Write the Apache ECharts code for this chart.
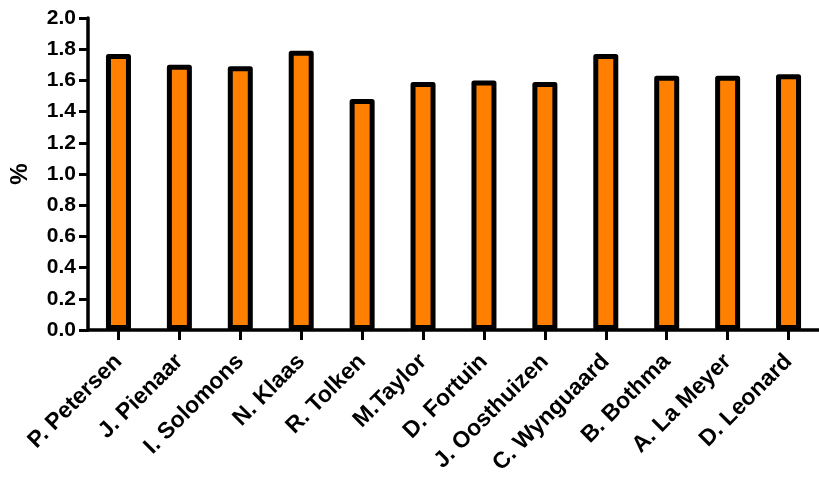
<!DOCTYPE html>
<html>
<head>
<meta charset="utf-8">
<script src="https://cdn.jsdelivr.net/npm/echarts@6/dist/echarts.min.js"></script>
<style>html,body{margin:0;padding:0;background:#fff;}#c{width:819px;height:480px;}</style>
</head>
<body>
<div id="c"></div>
<script>
const categories = ["P. Petersen","J. Pienaar","I. Solomons","N. Klaas","R. Tolken","M.Taylor","D. Fortuin","J. Oosthuizen","C. Wynguaard","B. Bothma","A. La Meyer","D. Leonard"];
const values = [1.77, 1.70, 1.69, 1.79, 1.48, 1.59, 1.60, 1.59, 1.77, 1.63, 1.63, 1.64];
const yTicks = [0, 2, 0.2];
const font = "'Liberation Sans', Arial, sans-serif";
const chart = echarts.init(document.getElementById('c'));
chart.setOption({
  animation: false,
  backgroundColor: '#fff',
  grid: {left: 88, top: 18, bottom: 150, right: -11, containLabel: false},
  xAxis: {
    type: 'category',
    data: categories,
    axisLine: {show: true, lineStyle: {color: '#000', width: 3.5}},
    axisTick: {show: true, alignWithLabel: true, length: 10, lineStyle: {color: '#000', width: 3}},
    axisLabel: {rotate: 45, interval: 0, margin: 28, color: '#000', fontSize: 23, fontWeight: 'bold', fontFamily: font}
  },
  yAxis: {
    type: 'value',
    min: yTicks[0], max: yTicks[1], interval: yTicks[2],
    name: '%', nameLocation: 'middle', nameGap: 56,
    nameTextStyle: {color: '#000', fontSize: 24, fontWeight: 'bold', fontFamily: font},
    axisLine: {show: true, lineStyle: {color: '#000', width: 3.5}},
    axisTick: {show: true, length: 9, lineStyle: {color: '#000', width: 3}},
    splitLine: {show: false},
    axisLabel: {margin: 12, color: '#000', fontSize: 21, fontWeight: 'bold', fontFamily: font, formatter: v => v.toFixed(1)}
  },
  series: [{
    type: 'bar',
    data: values,
    barWidth: 25,
    itemStyle: {color: '#FF8000', borderColor: '#000', borderWidth: 5, borderJoin: 'round'}
  }]
});
</script>
</body>
</html>
